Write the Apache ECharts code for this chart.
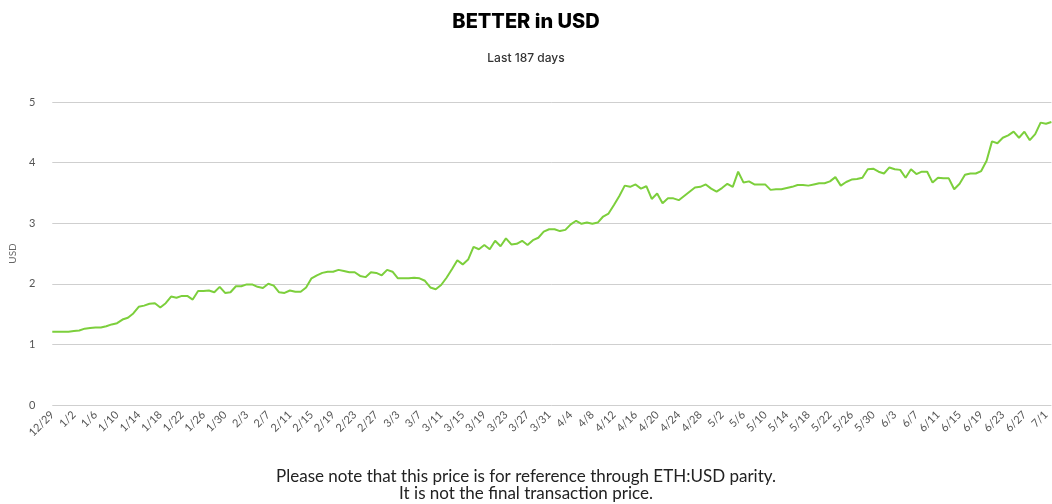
<!DOCTYPE html>
<html>
<head>
<meta charset="utf-8">
<title>BETTER in USD</title>
<script src="https://cdn.jsdelivr.net/npm/echarts@6/dist/echarts.min.js"></script>
<style>
  html, body { margin: 0; padding: 0; background: #fff; }
  #chart { width: 1052px; height: 504px; }
</style>
</head>
<body>
<div id="chart"></div>
<script>
// daily labels, 12/29 .. 7/2
const dates = [
  '12/29', '12/30', '12/31',
  '1/1', '1/2', '1/3', '1/4', '1/5', '1/6', '1/7', '1/8', '1/9', '1/10', '1/11', '1/12', '1/13', '1/14', '1/15', '1/16',
  '1/17', '1/18', '1/19', '1/20', '1/21', '1/22', '1/23', '1/24', '1/25', '1/26', '1/27', '1/28', '1/29', '1/30', '1/31',
  '2/1', '2/2', '2/3', '2/4', '2/5', '2/6', '2/7', '2/8', '2/9', '2/10', '2/11', '2/12', '2/13', '2/14',
  '2/15', '2/16', '2/17', '2/18', '2/19', '2/20', '2/21', '2/22', '2/23', '2/24', '2/25', '2/26', '2/27', '2/28',
  '3/1', '3/2', '3/3', '3/4', '3/5', '3/6', '3/7', '3/8', '3/9', '3/10', '3/11', '3/12', '3/13', '3/14', '3/15', '3/16',
  '3/17', '3/18', '3/19', '3/20', '3/21', '3/22', '3/23', '3/24', '3/25', '3/26', '3/27', '3/28', '3/29', '3/30', '3/31',
  '4/1', '4/2', '4/3', '4/4', '4/5', '4/6', '4/7', '4/8', '4/9', '4/10', '4/11', '4/12', '4/13', '4/14', '4/15',
  '4/16', '4/17', '4/18', '4/19', '4/20', '4/21', '4/22', '4/23', '4/24', '4/25', '4/26', '4/27', '4/28', '4/29', '4/30',
  '5/1', '5/2', '5/3', '5/4', '5/5', '5/6', '5/7', '5/8', '5/9', '5/10', '5/11', '5/12', '5/13', '5/14', '5/15', '5/16',
  '5/17', '5/18', '5/19', '5/20', '5/21', '5/22', '5/23', '5/24', '5/25', '5/26', '5/27', '5/28', '5/29', '5/30', '5/31',
  '6/1', '6/2', '6/3', '6/4', '6/5', '6/6', '6/7', '6/8', '6/9', '6/10', '6/11', '6/12', '6/13', '6/14', '6/15',
  '6/16', '6/17', '6/18', '6/19', '6/20', '6/21', '6/22', '6/23', '6/24', '6/25', '6/26', '6/27', '6/28', '6/29', '6/30',
  '7/1', '7/2'
];

// price in USD, one per day
const prices = [
  1.21, 1.21, 1.21, 1.21, 1.22, 1.23, 1.26, 1.27, 1.28, 1.28,
  1.30, 1.33, 1.35, 1.41, 1.44, 1.51, 1.62, 1.64, 1.67, 1.68,
  1.61, 1.68, 1.79, 1.77, 1.80, 1.80, 1.74, 1.88, 1.88, 1.89,
  1.86, 1.95, 1.85, 1.86, 1.96, 1.96, 1.99, 1.99, 1.95, 1.93,
  2.00, 1.97, 1.86, 1.85, 1.89, 1.87, 1.87, 1.94, 2.09, 2.14,
  2.18, 2.20, 2.20, 2.23, 2.21, 2.19, 2.19, 2.13, 2.11, 2.19,
  2.18, 2.14, 2.23, 2.20, 2.09, 2.09, 2.09, 2.10, 2.09, 2.05,
  1.94, 1.91, 1.98, 2.10, 2.24, 2.39, 2.32, 2.40, 2.61, 2.57,
  2.64, 2.57, 2.71, 2.62, 2.75, 2.65, 2.66, 2.71, 2.64, 2.72,
  2.76, 2.86, 2.90, 2.90, 2.87, 2.89, 2.98, 3.04, 2.99, 3.01,
  2.99, 3.01, 3.11, 3.16, 3.30, 3.45, 3.62, 3.60, 3.64, 3.57,
  3.61, 3.40, 3.49, 3.33, 3.41, 3.41, 3.38, 3.45, 3.52, 3.59,
  3.60, 3.64, 3.57, 3.52, 3.58, 3.65, 3.60, 3.85, 3.67, 3.69,
  3.64, 3.64, 3.64, 3.55, 3.56, 3.56, 3.58, 3.60, 3.63, 3.63,
  3.62, 3.64, 3.66, 3.66, 3.69, 3.76, 3.62, 3.68, 3.72, 3.73,
  3.75, 3.89, 3.90, 3.85, 3.82, 3.92, 3.89, 3.88, 3.75, 3.89,
  3.81, 3.85, 3.85, 3.67, 3.75, 3.74, 3.74, 3.56, 3.65, 3.80,
  3.82, 3.82, 3.86, 4.03, 4.35, 4.32, 4.41, 4.45, 4.51, 4.41,
  4.51, 4.37, 4.47, 4.66, 4.64, 4.67
];

const noteLines = [
  'Please note that this price is for reference through ETH:USD parity.',
  'It is not the final transaction price.'
];

const chart = echarts.init(document.getElementById('chart'));

const option = {
  animation: false,
  title: {
    text: 'BETTER in USD',
    subtext: 'Last 187 days',
    left: 'center',
    top: 7,
    itemGap: 20,
    textStyle: { fontFamily: 'Inter', fontWeight: 800, fontSize: 20, color: '#000' },
    subtextStyle: { fontFamily: 'Inter', fontWeight: 500, fontSize: 12, color: '#333' }
  },
  grid: {
    left: 50,
    right: 0,
    top: 102,
    bottom: 99
  },
  xAxis: {
    type: 'category',
    data: dates,
    boundaryGap: false,
    axisLine: { show: false },
    axisTick: { show: false },
    axisLabel: {
      interval: 3,
      rotate: 45,
      margin: 8,
      color: '#555',
      fontFamily: 'Lato',
      fontSize: 11
    },
    splitLine: { show: false }
  },
  yAxis: {
    type: 'value',
    min: 0,
    max: 5,
    interval: 1,
    name: 'USD',
    nameLocation: 'middle',
    nameGap: 31,
    nameTextStyle: { color: '#666', fontFamily: 'Lato', fontSize: 10 },
    axisLine: { show: false },
    axisTick: { show: false },
    axisLabel: { color: '#555', fontFamily: 'Lato', fontSize: 11, margin: 17 },
    splitLine: { lineStyle: { color: '#cfcfcf', width: 1 } }
  },
  series: [{
    type: 'line',
    data: prices,
    showSymbol: false,
    smooth: false,
    lineStyle: { color: '#7ccf3c', width: 2 },
    itemStyle: { color: '#7ccf3c' }
  }],
  graphic: [{
    type: 'text',
    left: 'center',
    top: 468,
    style: {
      text: noteLines.join('\n'),
      textAlign: 'center',
      fill: '#222',
      fontFamily: 'Lato',
      fontSize: 17,
      lineHeight: 17
    }
  }]
};

chart.setOption(option);
</script>
</body>
</html>
